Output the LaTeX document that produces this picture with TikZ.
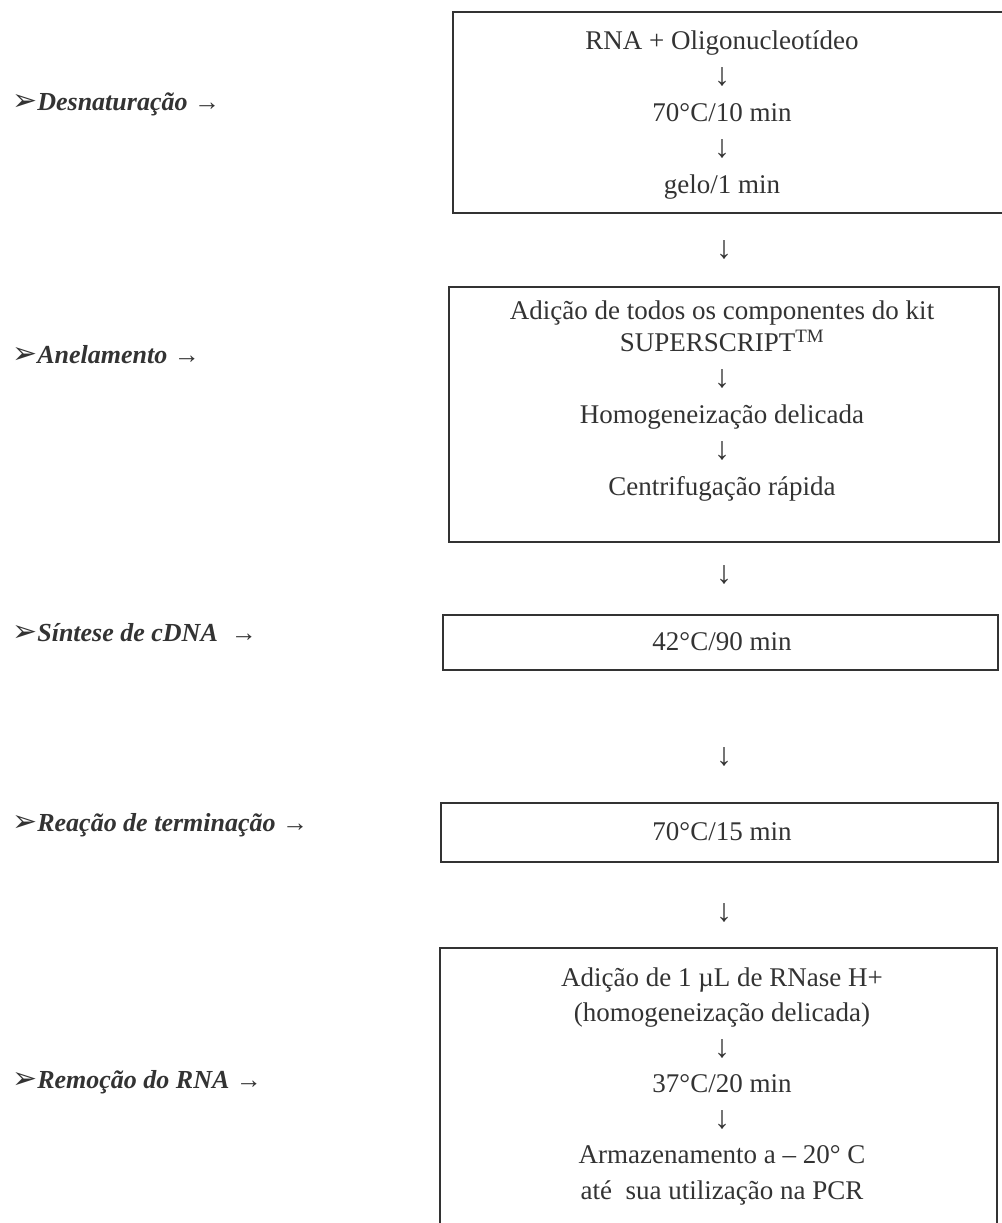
\documentclass[tikz,border=0pt]{standalone}
\usepackage{fontspec}
\setmainfont{Liberation Serif}
\newfontfamily\dejavu{DejaVu Sans}
\definecolor{ink}{HTML}{333333}
\newcommand{\dn}{{\fontsize{32}{36}\selectfont ↓}}
\newcommand{\pt}{{\dejavu\mdseries\upshape\fontsize{30}{30}\selectfont ➢}}
\newcommand{\ra}{{\mdseries\upshape →}}
\begin{document}
\begin{tikzpicture}[x=1pt,y=-1pt,
  box/.style={draw=ink, line width=1.4pt, inner sep=0pt},
  txt/.style={text=ink, font=\fontsize{27}{36}\selectfont, align=center, inner sep=0pt},
  lbl/.style={text=ink, font=\fontsize{26}{30}\selectfont\bfseries\itshape, anchor=west, inner sep=0pt},
  flow/.style={text=ink, font=\fontsize{32}{36}\selectfont, inner sep=0pt}]
\useasboundingbox (0,0) rectangle (1001,1223);
\fill[white] (0,0) rectangle (1001,1223);

% boxes
\node[box, minimum width=552pt, minimum height=201pt] (b1) at (729,112.5) {};
\node[box, minimum width=550pt, minimum height=255pt] (b2) at (724,414.5) {};
\node[box, minimum width=555pt, minimum height=55pt] (b3) at (720.5,642.5) {};
\node[box, minimum width=557pt, minimum height=59pt] (b4) at (719.5,832.5) {};
\node[box, minimum width=557pt, minimum height=312pt] (b5) at (718.5,1104) {};

% box texts
\node[txt] (t1) at (722,115) {RNA + Oligonucleotídeo\\\dn\\70°C/10 min\\\dn\\gelo/1 min};
\node[txt] (t2) at (722,401) {Adição de todos os componentes do kit\\[-4pt]SUPERSCRIPT\textsuperscript{TM}\\\dn\\Homogeneização delicada\\\dn\\Centrifugação rápida};
\node[txt] (t3) at (722,642) {42°C/90 min};
\node[txt] (t4) at (722,832) {70°C/15 min};
\node[txt, font=\fontsize{27}{35.5}\selectfont] (t5) at (722,1086) {Adição de 1 µL de RNase H+\\(homogeneização delicada)\\\dn\\37°C/20 min\\\dn\\Armazenamento a – 20° C\\até\ \ sua utilização na PCR};

% arrows between boxes
\node[flow] (a1) at (724,250) {↓};
\node[flow] (a2) at (724,575) {↓};
\node[flow] (a3) at (724,757) {↓};
\node[flow] (a4) at (724,913) {↓};

% left labels
\node[lbl] (l1) at (12,104) {\pt Desnaturação \ra};
\node[lbl] (l2) at (12,355) {\pt Anelamento \ra};
\node[lbl] (l3) at (12,633) {\pt Síntese de cDNA\ \ \ra};
\node[lbl] (l4) at (12,825) {\pt Reação de terminação \ra};
\node[lbl] (l5) at (12,1082) {\pt Remoção do RNA \ra};
\end{tikzpicture}
\end{document}
